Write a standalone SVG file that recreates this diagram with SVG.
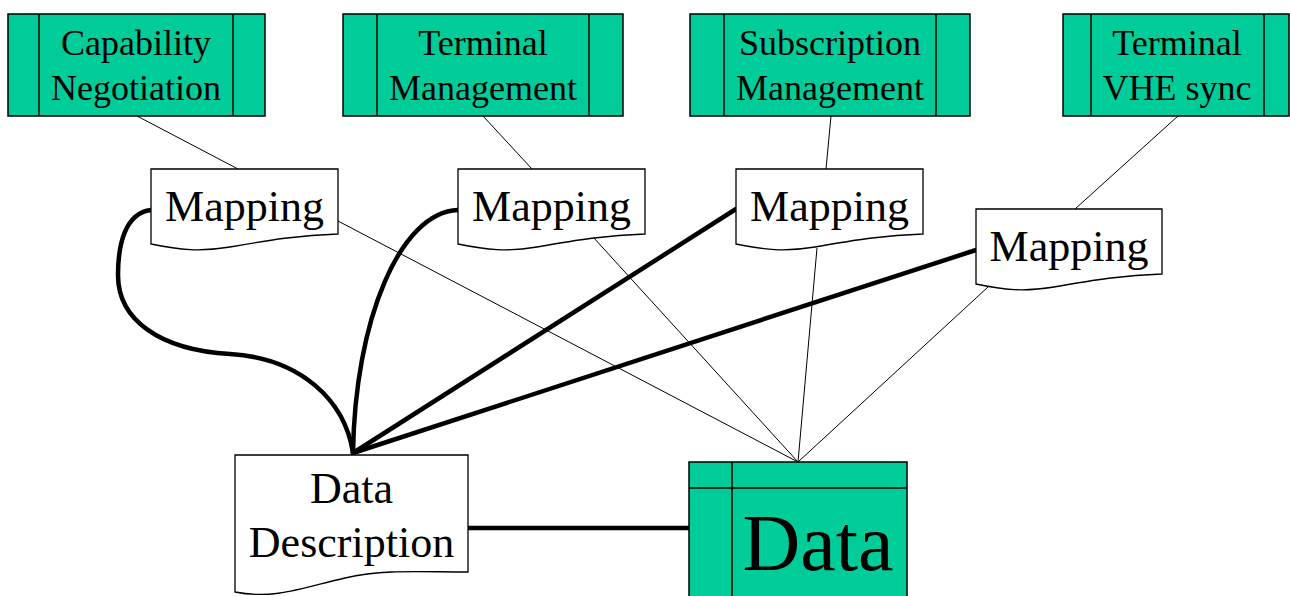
<svg xmlns="http://www.w3.org/2000/svg" width="1290" height="596" viewBox="0 0 1290 596">
<style>
.proc{fill:#00CC99;stroke:#000;stroke-width:1.5}
.div{stroke:#000;stroke-width:1.5;fill:none}
.doc{fill:#fff;stroke:#000;stroke-width:1.3}
.t{font-family:"Liberation Serif","Times New Roman",serif;fill:#000;text-anchor:middle}
.t36{font-size:36px}
.t44{font-size:44px}
.thin{stroke:#000;stroke-width:1;fill:none}
.thick{stroke:#000;stroke-width:4.5;fill:none;stroke-linecap:round}
</style>
<rect width="1290" height="596" fill="#fff"/>
<g id="connectors">
<line class="thin" x1="137" y1="116" x2="238" y2="169"/>
<line class="thin" x1="483" y1="116" x2="532" y2="169"/>
<line class="thin" x1="831" y1="116" x2="826" y2="169"/>
<line class="thin" x1="1178" y1="116" x2="1075" y2="209"/>
<line class="thin" x1="338" y1="221" x2="798" y2="462"/>
<line class="thin" x1="593" y1="237" x2="798" y2="462"/>
<line class="thin" x1="817" y1="248" x2="798" y2="462"/>
<line class="thin" x1="988" y1="287" x2="798" y2="462"/>
<path class="thick" d="M151,210 C125,213 118,245 118,275 C118,320 160,350 230,354 C300,358 345,400 353,453"/>
<path class="thick" d="M458,210 C400,212 355,320 353,453"/>
<line class="thick" x1="736" y1="209" x2="353" y2="453"/>
<line class="thick" x1="976" y1="250" x2="353" y2="453"/>
<line class="thick" x1="468" y1="528" x2="689" y2="528"/>
</g>
<g id="capability-negotiation">
<rect class="proc" x="8" y="14" width="257" height="102"/>
<line class="div" x1="39" y1="14" x2="39" y2="116"/>
<line class="div" x1="233" y1="14" x2="233" y2="116"/>
<text class="t t36" x="136" y="55">Capability</text>
<text class="t t36" x="136" y="100">Negotiation</text>
</g>
<g id="terminal-management">
<rect class="proc" x="343" y="14" width="280" height="102"/>
<line class="div" x1="377" y1="14" x2="377" y2="116"/>
<line class="div" x1="589" y1="14" x2="589" y2="116"/>
<text class="t t36" x="483" y="55">Terminal</text>
<text class="t t36" x="483" y="100">Management</text>
</g>
<g id="subscription-management">
<rect class="proc" x="690" y="14" width="280" height="102"/>
<line class="div" x1="724" y1="14" x2="724" y2="116"/>
<line class="div" x1="936" y1="14" x2="936" y2="116"/>
<text class="t t36" x="830" y="55">Subscription</text>
<text class="t t36" x="830" y="100">Management</text>
</g>
<g id="terminal-vhe-sync">
<rect class="proc" x="1063" y="14" width="226" height="102"/>
<line class="div" x1="1091" y1="14" x2="1091" y2="116"/>
<line class="div" x1="1264" y1="14" x2="1264" y2="116"/>
<text class="t t36" x="1177" y="55">Terminal</text>
<text class="t t36" x="1177" y="100">VHE sync</text>
</g>
<g id="mapping-1">
<path class="doc" d="M151,169 H338 V234 C300,235 270,240 230,247 C200,252 180,250 151,244 Z"/>
<text class="t t44" x="244.5" y="221">Mapping</text>
</g>
<g id="mapping-2">
<path class="doc" d="M458,169 H645 V234 C607,235 577,240 537,247 C507,252 487,250 458,244 Z"/>
<text class="t t44" x="551.5" y="221">Mapping</text>
</g>
<g id="mapping-3">
<path class="doc" d="M736,169 H923 V234 C885,235 855,240 815,247 C785,252 765,250 736,244 Z"/>
<text class="t t44" x="829.5" y="221">Mapping</text>
</g>
<g id="mapping-4">
<path class="doc" d="M976,209 H1162 V274 C1124,275 1094,280 1054,287 C1024,292 1004,290 976,284 Z"/>
<text class="t t44" x="1069" y="261">Mapping</text>
</g>
<g id="data-description">
<path class="doc" d="M235,455 H468 V572 C420,572 385,569 345,578 C305,587 275,600 235,592 Z"/>
<text class="t t44" x="351.5" y="503">Data</text>
<text class="t t44" x="351.5" y="557">Description</text>
</g>
<g id="data">
<rect class="proc" x="689" y="462" width="218" height="140"/>
<line class="div" x1="689" y1="488" x2="907" y2="488"/>
<line class="div" x1="732" y1="462" x2="732" y2="602"/>
<text class="t" font-size="80" x="818" y="570">Data</text>
</g>
</svg>
